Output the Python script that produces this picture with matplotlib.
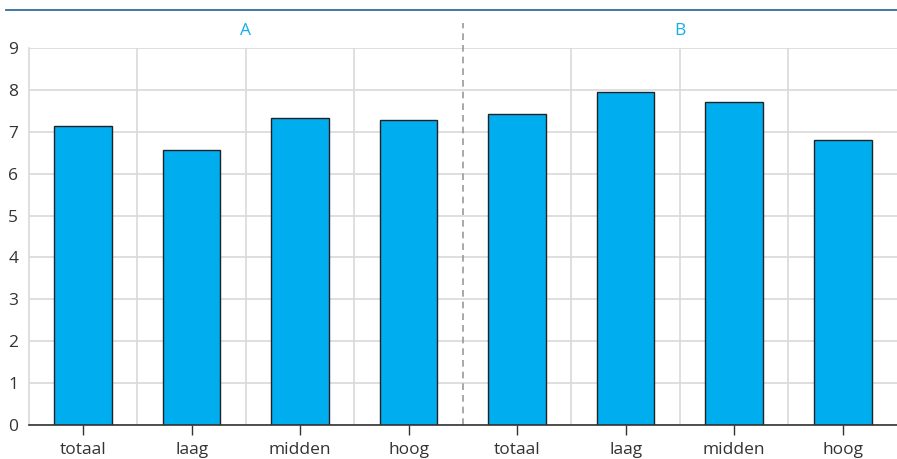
"""Bar chart: scores per group (A / B) by level."""

import matplotlib
import matplotlib.pyplot as plt
from matplotlib.lines import Line2D
import numpy as np

matplotlib.use("Agg")

plt.rcParams["font.family"] = ["Open Sans", "DejaVu Sans"]

categories = ["totaal", "laag", "midden", "hoog", "totaal", "laag", "midden", "hoog"]
values = [7.14, 6.57, 7.33, 7.27, 7.43, 7.94, 7.70, 6.81]
groups = ["A", "B"]
group_size = 4
y_ticks = list(range(0, 10))

BAR_COLOR = "#00aeef"
GROUP_COLOR = "#13aee8"
GRID_COLOR = "#d9d9d9"

fig = plt.figure(figsize=(8.97, 4.59), dpi=100)
ax = fig.add_axes([0.0323, 0.0741, 0.9677, 0.8213])

x = np.arange(len(categories))
ax.bar(x, values, width=0.53, color=BAR_COLOR, edgecolor="#222222",
       linewidth=1.0, zorder=3)

ax.set_xlim(-0.5, len(categories) - 0.5)
ax.set_ylim(0, 9)
ax.set_yticks(y_ticks)
ax.set_yticklabels([str(t) for t in y_ticks], fontsize=12.5, color="#333333")
ax.set_xticks(x)
ax.set_xticklabels(categories, fontsize=12.5, color="#333333")
ax.tick_params(axis="y", length=0, pad=15)
for lab in ax.get_yticklabels():
    lab.set_horizontalalignment("left")
ax.tick_params(axis="x", length=7, width=1, color="#333333", pad=5)

# grid
ax.yaxis.grid(True, color=GRID_COLOR, linewidth=1.2, zorder=0)
for b in np.arange(0.5, len(categories) - 1, 1.0):
    if b == group_size - 0.5:
        ax.plot([b, b], [0, 9.6], color="#999999", linewidth=1.2,
                linestyle=(0, (4, 3)), clip_on=False, zorder=2)
    else:
        ax.axvline(b, color=GRID_COLOR, linewidth=1.2, zorder=0)

for side in ["top", "right"]:
    ax.spines[side].set_visible(False)
ax.spines["left"].set_color(GRID_COLOR)
ax.spines["left"].set_linewidth(1.2)
ax.spines["bottom"].set_color("#333333")
ax.spines["bottom"].set_linewidth(1.2)
ax.spines["bottom"].set_zorder(4)

# group labels
for i, g in enumerate(groups):
    center = i * group_size + (group_size - 1) / 2
    ax.text(center, 9.4, g, ha="center", va="center", fontsize=12.5,
            color=GROUP_COLOR)

# top rule
fig.add_artist(Line2D([6 / 897, 1.0], [0.978, 0.978], color="#2f6e9e",
                      linewidth=1.3, transform=fig.transFigure))

fig.savefig("out.png", dpi=100)
plt.close(fig)
